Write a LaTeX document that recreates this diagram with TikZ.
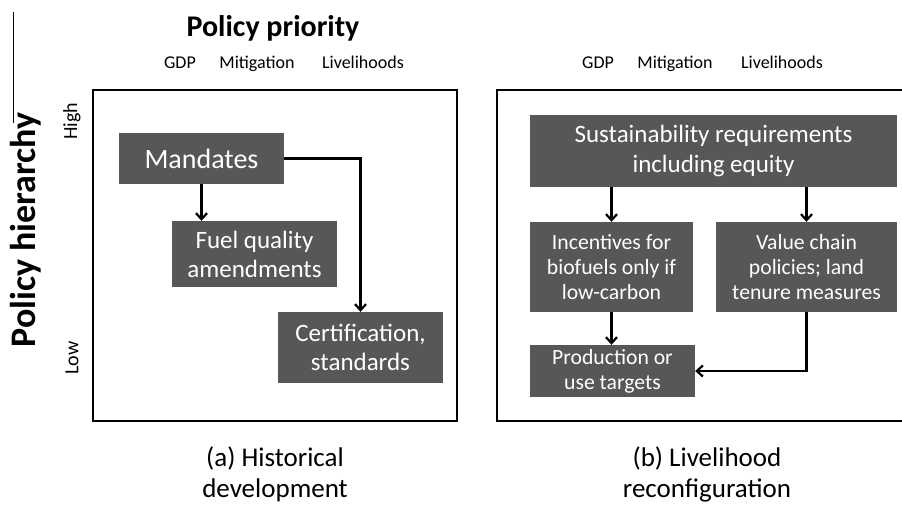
\documentclass[tikz,border=0pt]{standalone}
\usepackage{fontspec}
\setmainfont{Carlito}
\usetikzlibrary{arrows.meta}
\definecolor{boxgray}{HTML}{575757}
\begin{document}
\begin{tikzpicture}[x=1pt,y=-1pt,
  pbox/.style={draw=none,fill=boxgray,text=white,align=center,inner sep=2pt,
    minimum width=#1,font=\fontsize{25}{29}\selectfont},
  frame/.style={line width=2.8pt},
  link/.style={line width=2.2pt,-{Straight Barb[length=6pt,width=11pt,line width=2.2pt]}},
  head/.style={font=\fontsize{18}{22}\selectfont,anchor=base}]
\useasboundingbox (0,0) rectangle (902,506);

% axis rule at the far left
\draw[line width=0.8pt] (13,12) -- (13,123);

% headings
\node[font=\bfseries\fontsize{30}{34}\selectfont] (title) at (273,28) {Policy priority};
\node[head] (gdpA) at (180,68) {GDP};
\node[head] (mitA) at (257,68) {Mitigation};
\node[head] (livA) at (363,68) {Livelihoods};
\node[head] (gdpB) at (598,68) {GDP};
\node[head] (mitB) at (675,68) {Mitigation};
\node[head] (livB) at (782,68) {Livelihoods};

\node[font=\bfseries\fontsize{36}{40}\selectfont,rotate=90] (hier) at (26,230) {Policy hierarchy};
\node[font=\fontsize{20}{24}\selectfont,rotate=90] (high) at (72,121) {High};
\node[font=\fontsize{20}{24}\selectfont,rotate=90] (low) at (72,358) {Low};

% panel frames
\draw[frame] (93,90) rectangle (457,421);
\draw[frame] (497,90) rectangle (906,421);

% (a) historical development
\node[pbox=165pt,minimum height=51pt,font=\fontsize{28}{32}\selectfont] (mand) at (201.5,158.5) {Mandates};
\node[pbox=165pt,minimum height=66pt] (fuel) at (254.5,254) {Fuel quality\\amendments};
\node[pbox=165pt,minimum height=71pt] (cert) at (360.5,347.5) {Certification,\\standards};

\draw[link] (mand.south) -- (mand.south |- fuel.north);
\draw[link] (mand.east) -| (cert.north);

% (b) livelihood reconfiguration
\node[pbox=367pt,minimum height=72pt,font=\fontsize{25}{30}\selectfont] (sust) at (713.5,151) {Sustainability requirements\\including equity};
\node[pbox=163pt,minimum height=90pt,font=\fontsize{21.7}{25}\selectfont] (inc) at (611.5,267) {Incentives for\\biofuels only if\\low-carbon};
\node[pbox=181pt,minimum height=90pt,font=\fontsize{21.7}{25}\selectfont] (val) at (806.5,267) {Value chain\\policies; land\\tenure measures};
\node[pbox=165pt,minimum height=52pt,font=\fontsize{21.7}{25}\selectfont] (prod) at (612.5,371) {Production or\\use targets};

\draw[link] (inc.north |- sust.south) -- (inc.north);
\draw[link] (val.north |- sust.south) -- (val.north);
\draw[link] (inc.south) -- (inc.south |- prod.north);
\draw[link] (val.south) |- (prod.east);

% captions
\node[font=\fontsize{27}{31}\selectfont,align=center,inner sep=1pt] (capA) at (275,474) {(a) Historical\\development};
\node[font=\fontsize{27}{31}\selectfont,align=center,inner sep=1pt] (capB) at (707,474) {(b) Livelihood\\reconfiguration};
\end{tikzpicture}
\end{document}
